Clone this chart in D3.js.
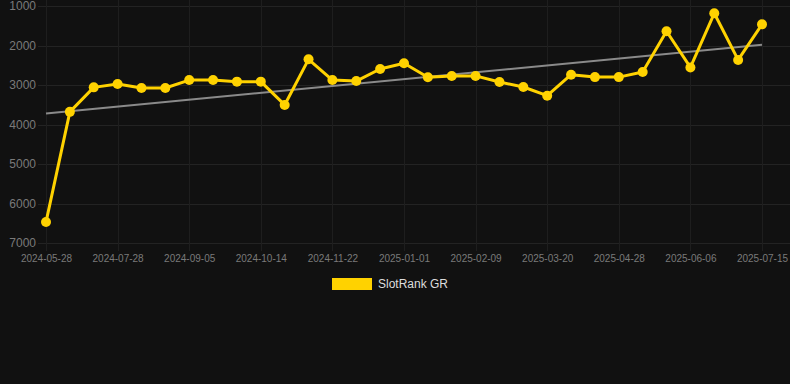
<!DOCTYPE html>
<html>
<head>
<meta charset="utf-8">
<script src="https://cdn.jsdelivr.net/npm/d3@7"></script>
<style>
  html, body { margin: 0; padding: 0; background: #111111; }
  svg { display: block; font-family: "Liberation Sans", Arial, sans-serif; }
</style>
</head>
<body>
<svg id="chart" width="790" height="384"></svg>
<script>
// categories (every third one is labelled on the axis)
const dates = [
  "2024-05-28", "2024-06-19", "2024-07-15", "2024-07-28", "2024-08-10", "2024-08-23",
  "2024-09-05", "2024-09-18", "2024-10-01", "2024-10-14", "2024-10-27", "2024-11-09",
  "2024-11-22", "2024-12-05", "2024-12-18", "2025-01-01", "2025-01-14", "2025-01-27",
  "2025-02-09", "2025-02-22", "2025-03-07", "2025-03-20", "2025-04-02", "2025-04-15",
  "2025-04-28", "2025-05-11", "2025-05-24", "2025-06-06", "2025-06-19", "2025-07-02",
  "2025-07-15"
];

// SlotRank GR rank values
const ranks = [
  6470, 3680, 3060, 2975, 3075, 3075,
  2875, 2875, 2915, 2915, 3505, 2350,
  2875, 2900, 2595, 2450, 2805, 2770,
  2770, 2925, 3050, 3270, 2740, 2800,
  2800, 2670, 1640, 2555, 1185, 2365,
  1465
];

const yTicks = [1000, 2000, 3000, 4000, 5000, 6000, 7000];
const seriesName = "SlotRank GR";

const SIZE = { left: 46, right: 762, top: 6, bottom: 243 };
const svg = d3.select("#chart");

const x = d3.scalePoint()
  .domain(dates)
  .range([SIZE.left, SIZE.right]);

const y = d3.scaleLinear()
  .domain([1000, 7000])
  .range([SIZE.top, SIZE.bottom]);

const shownDates = dates.filter((d, i) => i % 3 === 0);

// grid
const grid = svg.append("g").attr("class", "grid");
grid.selectAll("line.h")
  .data(yTicks)
  .join("line")
  .attr("class", "h")
  .attr("x1", SIZE.left - 8)
  .attr("x2", 790)
  .attr("y1", d => Math.round(y(d)) + 0.5)
  .attr("y2", d => Math.round(y(d)) + 0.5)
  .attr("stroke", "#232323")
  .attr("stroke-width", 1);

grid.selectAll("line.v")
  .data(shownDates)
  .join("line")
  .attr("class", "v")
  .attr("x1", d => Math.round(x(d)) + 0.5)
  .attr("x2", d => Math.round(x(d)) + 0.5)
  .attr("y1", 0)
  .attr("y2", SIZE.bottom + 8)
  .attr("stroke", "#1e1e1e")
  .attr("stroke-width", 1);

// axes
const yAxisCall = d3.axisLeft(y).tickValues(yTicks).tickSize(0).tickPadding(0).tickFormat(d3.format("d"));
const yAxis = svg.append("g")
  .attr("transform", `translate(${SIZE.left - 10},0)`)
  .call(yAxisCall);
yAxis.select(".domain").remove();
yAxis.selectAll("text")
  .attr("fill", "#7a7a7a")
  .style("font-size", "12px")
  .style("font-family", "Liberation Sans, Arial, sans-serif");

const xAxisCall = d3.axisBottom(x).tickValues(shownDates).tickSize(0).tickPadding(0);
const xAxis = svg.append("g")
  .attr("transform", `translate(0,${SIZE.bottom + 12})`)
  .call(xAxisCall);
xAxis.select(".domain").remove();
xAxis.selectAll("text")
  .attr("fill", "#7a7a7a")
  .attr("dy", "0.71em")
  .style("font-size", "10px")
  .style("font-family", "Liberation Sans, Arial, sans-serif");

// trend line (least squares fit over the series)
const idx = ranks.map((v, i) => i);
const mx = d3.mean(idx), my = d3.mean(ranks);
const slope = d3.sum(idx, i => (i - mx) * (ranks[i] - my)) / d3.sum(idx, i => (i - mx) ** 2);
const icpt = my - slope * mx;
const trend = [0, ranks.length - 1].map(i => ({ d: dates[i], v: icpt + slope * i }));

svg.append("path")
  .datum(trend)
  .attr("fill", "none")
  .attr("stroke", "#8a8a8a")
  .attr("stroke-width", 2)
  .attr("d", d3.line().x(p => x(p.d)).y(p => y(p.v)));

// series
const line = d3.line()
  .x((v, i) => x(dates[i]))
  .y(v => y(v));

svg.append("path")
  .datum(ranks)
  .attr("fill", "none")
  .attr("stroke", "#ffd200")
  .attr("stroke-width", 3)
  .attr("stroke-linejoin", "round")
  .attr("d", line);

svg.append("g")
  .selectAll("circle")
  .data(ranks)
  .join("circle")
  .attr("cx", (v, i) => x(dates[i]))
  .attr("cy", v => y(v))
  .attr("r", 5)
  .attr("fill", "#ffd200");

// legend
const legend = svg.append("g").attr("transform", "translate(332,278)");
legend.append("rect")
  .attr("width", 40)
  .attr("height", 12)
  .attr("fill", "#ffd200");
legend.append("text")
  .attr("x", 46)
  .attr("y", 6)
  .attr("dy", "0.35em")
  .attr("fill", "#dddddd")
  .style("font-size", "12px")
  .text(seriesName);
</script>
</body>
</html>
